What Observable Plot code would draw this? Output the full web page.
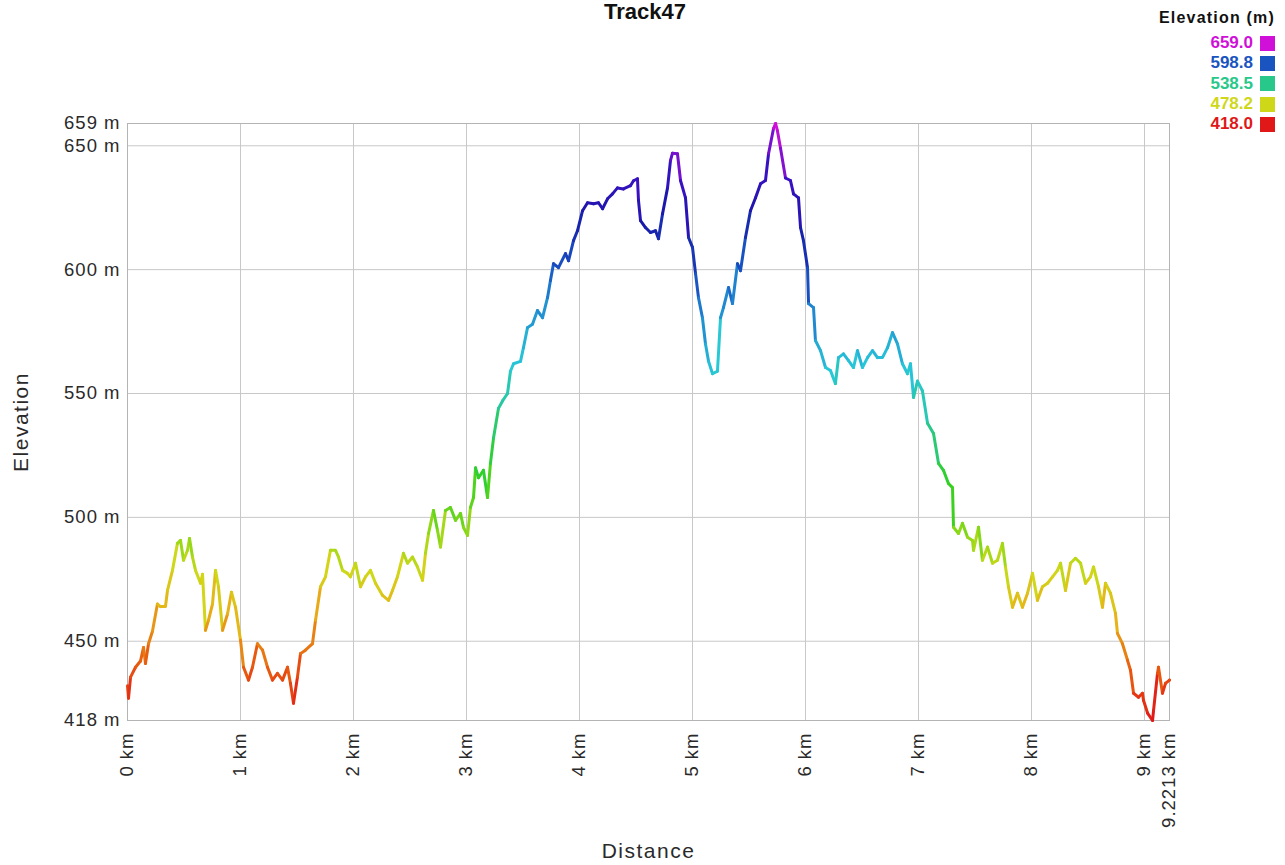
<!DOCTYPE html>
<html><head><meta charset="utf-8">
<script src="https://cdn.jsdelivr.net/npm/d3@7"></script>
<script src="https://cdn.jsdelivr.net/npm/@observablehq/plot@0.6"></script>
<style>
body{margin:0;background:#fff;font-family:"Liberation Sans",Arial,sans-serif;}
#wrap{position:relative;width:1285px;height:865px;overflow:hidden;background:#fff;}
#title{position:absolute;left:0;width:1290px;text-align:center;top:1px;font-weight:bold;font-size:22px;line-height:22px;color:#111;}
#legend{position:absolute;left:1125px;top:9px;width:150px;font-weight:bold;}
#legend .head{font-size:16px;text-align:right;color:#111;margin-bottom:6px;letter-spacing:1.2px;}
#legend .row{display:flex;justify-content:flex-end;align-items:center;height:20.3px;font-size:17px;}
#legend .sw{width:15px;height:15px;margin-left:7px;}
#chart{position:absolute;left:0;top:0;}
</style></head><body>
<div id="wrap"><div id="chart"></div><div id="title">Track47</div><div id="legend"></div></div>
<script>
const distanceKm = [0,0.009,0.027,0.071,0.115,0.142,0.159,0.186,0.221,0.265,0.292,0.336,0.354,0.398,0.442,0.469,0.496,0.531,0.549,0.575,0.602,0.646,0.664,0.690,0.717,0.752,0.779,0.805,0.841,0.885,0.920,0.956,1.000,1.027,1.071,1.106,1.150,1.195,1.239,1.283,1.327,1.372,1.416,1.442,1.469,1.504,1.531,1.575,1.637,1.664,1.708,1.752,1.796,1.841,1.867,1.903,1.947,1.973,2.018,2.062,2.106,2.150,2.195,2.257,2.310,2.345,2.389,2.442,2.478,2.522,2.566,2.611,2.637,2.664,2.708,2.743,2.770,2.814,2.858,2.903,2.947,2.973,3.009,3.035,3.062,3.080,3.106,3.150,3.186,3.212,3.239,3.283,3.319,3.363,3.389,3.416,3.478,3.504,3.540,3.584,3.628,3.673,3.717,3.743,3.770,3.814,3.876,3.903,3.947,3.982,4.027,4.071,4.124,4.168,4.204,4.248,4.292,4.336,4.389,4.451,4.478,4.513,4.522,4.540,4.584,4.628,4.673,4.699,4.735,4.779,4.805,4.823,4.867,4.894,4.938,4.965,5.000,5.027,5.053,5.088,5.115,5.142,5.177,5.221,5.248,5.274,5.319,5.354,5.398,5.425,5.469,5.513,5.558,5.602,5.646,5.673,5.717,5.735,5.752,5.779,5.823,5.867,5.894,5.938,5.956,5.982,6.018,6.027,6.071,6.088,6.133,6.177,6.221,6.265,6.292,6.336,6.381,6.425,6.460,6.504,6.549,6.593,6.637,6.681,6.726,6.770,6.814,6.858,6.903,6.929,6.956,6.991,7.035,7.080,7.133,7.177,7.221,7.265,7.301,7.310,7.354,7.389,7.434,7.478,7.487,7.531,7.566,7.611,7.655,7.699,7.743,7.770,7.796,7.832,7.876,7.920,7.965,8.009,8.053,8.097,8.142,8.186,8.230,8.257,8.301,8.345,8.389,8.434,8.478,8.522,8.549,8.593,8.628,8.655,8.699,8.743,8.761,8.805,8.850,8.876,8.903,8.947,8.982,8.991,9.027,9.071,9.080,9.115,9.124,9.159,9.186,9.2213];
const elevationM = [432,427,435.5,439.5,442,447.5,441,449,454,465,464,464,470.5,478.6,489.5,490.7,482.7,486.7,491.5,484,478.6,473.4,477,454.4,458.5,465,478.6,472,454.4,461,469.8,463.7,450.4,439.5,434.3,439.5,449,446.4,439.5,434.3,437,434.3,439.5,433,425,435.5,445,446.4,449,458.5,472,476,486.7,486.7,484,478.6,477.4,476,481.5,472,476,478.6,473.4,468.5,466.5,470.5,476,485.5,481.5,484,480,474.6,485.5,493.5,502.8,494.8,488,502.8,504,498.8,501.6,496,492.7,504,508,520,516,519,508,521.8,532,544,547,550,559,562,563,568.5,576.6,578,583.5,580.6,588.7,595.6,602.4,600.8,606.5,603.6,611.7,615.7,623.8,627,626.6,627,624.6,628.6,630.6,633,632.6,633.9,635.9,636.7,628,619.8,617,615,615.7,612.5,622.6,633,644,647,646.8,636,629,613,609,598.4,588.7,580.6,570,563,558,559,580.6,584.7,592.8,586.3,602.4,599.6,613,623.8,629,634.7,636,646.8,657,659,656,649,637,636,630.6,629,617,611.7,600.8,586.3,584.7,571.4,567.3,560.5,559.3,554,564.5,566,563.3,560.5,567.3,560.5,564.5,567.3,564.5,564.5,568.5,574.6,570,562,558,562,548.4,555,551,538,533.9,521.8,519,513.7,512,496,493.5,497.6,492,490.7,486.7,496,482.7,488,481.5,482.7,489.5,480,472,463.7,469.4,463.7,469.4,477.4,466.5,472,473.4,476,478.6,481.5,470.5,481.5,483.5,481.5,473.4,476,480,472,463.7,473.4,469.4,461.3,453.2,449,442.3,438.3,429,427.4,429,426.2,421,418,422,437,439.5,429,433,434.3];
const yTicks = [418, 450, 500, 550, 600, 650, 659];
const xTicks = [0, 1, 2, 3, 4, 5, 6, 7, 8, 9, 9.2213];
const xGrid = [1, 2, 3, 4, 5, 6, 7, 8, 9];
const yGrid = [450, 500, 550, 600, 650];
const legendValues = [659.0, 598.8, 538.5, 478.2, 418.0];
const colorStops = [418, 440, 460, 478, 495, 515, 538, 560, 585, 600, 620, 640, 659];
const colorRange = ["#e01818", "#e85a10", "#e8b018", "#d0d818", "#88d818", "#30d020", "#28c888", "#28c8d8", "#2088d0", "#1850c0", "#1818a8", "#4010c8", "#d010d8"];

const data = distanceKm.map((d, i) => ({d, e: elevationM[i]}));

const plot = Plot.plot({
  width: 1285, height: 865,
  marginLeft: 127, marginRight: 116, marginTop: 123, marginBottom: 145,
  style: {fontFamily: "Liberation Sans, Arial, sans-serif", fontSize: "18.5px", color: "#2a2a2a", background: "#fff"},
  x: {domain: [0, 9.2213], ticks: xTicks, tickFormat: d => `${d} km`, tickRotate: -90, tickSize: 0, tickPadding: 12,
      label: "Distance", labelAnchor: "center", labelArrow: "none", labelOffset: 137},
  y: {domain: [418, 659], ticks: yTicks, tickFormat: d => `${d} m`, tickSize: 0, tickPadding: 7,
      label: "Elevation", labelAnchor: "center", labelArrow: "none", labelOffset: 114},
  color: {type: "linear", domain: colorStops, range: colorRange},
  marks: [
    Plot.gridX(xGrid, {stroke: "#c8c8c8", strokeOpacity: 1}),
    Plot.gridY(yGrid, {stroke: "#c8c8c8", strokeOpacity: 1}),
    Plot.frame({stroke: "#b4b4b4"}),
    Plot.line(data, {x: "d", y: "e", stroke: "e", z: null, strokeWidth: 3})
  ]
});
document.getElementById("chart").appendChild(plot);
d3.select(plot).selectAll('[aria-label="x-axis label"] text, [aria-label="y-axis label"] text')
  .style("font-size", "21px").style("letter-spacing", "1.5px");
d3.select(plot).selectAll('[aria-label="x-axis tick label"] text, [aria-label="y-axis tick label"] text')
  .style("letter-spacing", "1px");

const colorScale = plot.scale("color");
const col = v => d3.scaleLinear().domain(colorScale.domain).range(colorScale.range)(v);
const leg = d3.select("#legend");
leg.append("div").attr("class", "head").text("Elevation (m)");
legendValues.forEach(v => {
  const row = leg.append("div").attr("class", "row");
  row.append("span").style("color", col(v)).text(v.toFixed(1));
  row.append("span").attr("class", "sw").style("background", col(v));
});
</script>
</body></html>
